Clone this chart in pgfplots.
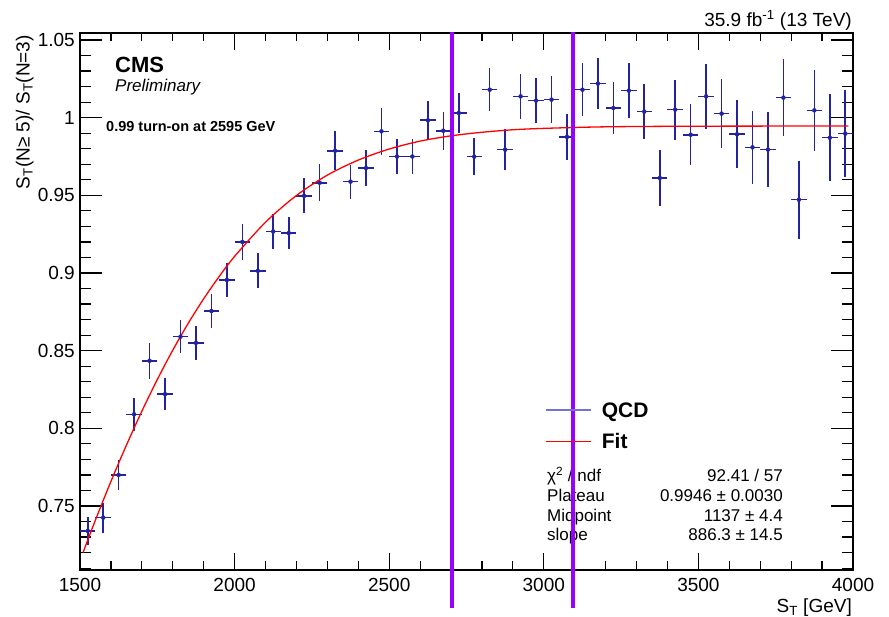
\documentclass[border=0pt]{standalone}
\usepackage{fontspec}
\setmainfont{Liberation Sans}
\usepackage{pgfplots}
\usepackage{pgfplotstable}
\pgfplotsset{compat=1.18}
\definecolor{qcdblue}{RGB}{35,35,160}
\definecolor{qcdlegend}{RGB}{115,115,215}
\definecolor{vline}{RGB}{152,0,255}
\definecolor{fitred}{RGB}{255,0,0}

\pgfplotstableread{
x y ey
1525 0.7340 0.0090
1575 0.7425 0.0097
1625 0.7700 0.0095
1675 0.8090 0.0105
1725 0.8435 0.0116
1775 0.8220 0.0103
1825 0.8590 0.0107
1875 0.8550 0.0107
1925 0.8755 0.0110
1975 0.8955 0.0110
2025 0.9200 0.0116
2075 0.9014 0.0113
2125 0.9267 0.0110
2175 0.9257 0.0105
2225 0.9497 0.0113
2275 0.9581 0.0118
2325 0.9787 0.0126
2375 0.9588 0.0110
2425 0.9676 0.0118
2475 0.9912 0.0152
2525 0.9750 0.0110
2575 0.9750 0.0113
2625 0.9983 0.0123
2675 0.9916 0.0123
2725 1.0030 0.0129
2775 0.9749 0.0120
2825 1.0180 0.0137
2875 0.9794 0.0130
2925 1.0137 0.0145
2975 1.0110 0.0147
3025 1.0116 0.0150
3075 0.9876 0.0150
3125 1.0180 0.0170
3175 1.0219 0.0166
3225 1.0062 0.0170
3275 1.0174 0.0175
3325 1.0039 0.0177
3375 0.9612 0.0178
3425 1.0052 0.0193
3475 0.9890 0.0195
3525 1.0137 0.0210
3575 1.0026 0.0220
3625 0.9893 0.0220
3675 0.9809 0.0233
3725 0.9794 0.0240
3775 1.0129 0.0250
3825 0.9472 0.0250
3875 1.0047 0.0260
3925 0.9871 0.0280
3975 0.9897 0.0280
}\qcddata

\pgfplotstableread{
x y
1510 0.7201
1550 0.7410
1600 0.7658
1650 0.7891
1700 0.8110
1750 0.8314
1800 0.8503
1850 0.8676
1900 0.8834
1950 0.8977
2000 0.9107
2100 0.9327
2200 0.9499
2300 0.9630
2400 0.9727
2500 0.9798
2600 0.9849
2700 0.9883
2800 0.9906
2900 0.9922
3000 0.9931
3200 0.9941
3500 0.9945
3985 0.9946
}\fitdata

\pgfplotstableread{
x y
2704 0.6844
2704 1.0553
}\lineA
\pgfplotstableread{
x y
3095 0.6844
3095 1.0553
}\lineB

\newcommand{\fs}[1]{\fontsize{#1}{#1}\selectfont}

\pgfplotsset{
  frameaxis/.style={
    at={(80bp,47bp)}, anchor=south west, scale only axis,
    width=773bp, height=537bp,
    xmin=1500, xmax=4000, ymin=0.7088, ymax=1.0545,
  },
  qcdleg/.style={legend image code/.code={%
    \draw[draw=qcdlegend, color=qcdlegend, line width=1.6bp] (0bp,0bp) -- (45bp,0bp);}},
  fitleg/.style={legend image code/.code={%
    \draw[draw=fitred, color=fitred, line width=1.3bp] (0bp,0bp) -- (45bp,0bp);}},
}

\begin{document}
\begin{tikzpicture}
\useasboundingbox (0bp,0bp) rectangle (889bp,617bp);

\begin{scope}[x=1bp, y=1bp]
% texts (positions in picture bp, y = 617 - pixel row)
\node[anchor=base west, inner sep=0pt, font=\fs{22bp}\bfseries] at (115,544) {CMS};
\node[anchor=base west, inner sep=0pt, font=\fs{17bp}\itshape] at (115,525.5) {Preliminary};
\node[anchor=base west, inner sep=0pt, font=\fs{14.5bp}\bfseries] at (106,485.3) {0.99 turn-on at 2595 GeV};
\node[anchor=base east, inner sep=0pt, font=\fs{19bp}] at (852,590.3) {35.9 fb\textsuperscript{-1} (13 TeV)};
\node[anchor=base east, inner sep=0pt, font=\fs{19bp}] at (852,4.3) {S\textsubscript{T} [GeV]};
\node[anchor=base east, inner sep=0pt, rotate=90, font=\fs{19bp}] at (29.5,582) {S\textsubscript{T}(N≥ 5)/ S\textsubscript{T}(N=3)};

% stats box text
\begin{scope}[every node/.style={inner sep=0pt, font=\fs{17bp}}]
\node[anchor=base west] at (547,135.5) {χ\textsuperscript{2} / ndf};
\node[anchor=base east] at (783,135.5) {92.41 / 57};
\node[anchor=base west] at (547,116) {Plateau};
\node[anchor=base east] at (783,116) {0.9946 ± 0.0030};
\node[anchor=base west] at (547,96) {Midpoint};
\node[anchor=base east] at (783,96) {1137 ± 4.4};
\node[anchor=base west] at (547,76.5) {slope};
\node[anchor=base east] at (783,76.5) {886.3 ± 14.5};
\end{scope}
\end{scope}

\begin{axis}[
  frameaxis,
  xtick={1500,2000,2500,3000,3500,4000},
  minor xtick={1600,1700,1800,1900,2100,2200,2300,2400,2600,2700,2800,2900,3100,3200,3300,3400,3600,3700,3800,3900},
  ytick={0.75,0.8,0.85,0.9,0.95,1,1.05},
  minor ytick={0.71,0.72,0.73,0.74,0.76,0.77,0.78,0.79,0.81,0.82,0.83,0.84,0.86,0.87,0.88,0.89,0.91,0.92,0.93,0.94,0.96,0.97,0.98,0.99,1.01,1.02,1.03,1.04},
  tick align=inside,
  major tick length=22bp, minor tick length=11bp,
  x tick style={/pgfplots/major tick length=17bp, /pgfplots/minor tick length=8.5bp},
  axis line style={line width=1.5bp},
  tick style={line width=1.2bp, black},
  scaled ticks=false,
  /pgf/number format/1000 sep={},
  /pgf/number format/assume math mode=true,
  xticklabel style={font=\fs{19bp}, inner sep=0pt, yshift=-8bp},
  yticklabel style={font=\fs{19bp}, inner sep=0pt, xshift=-5bp},
]
\addplot[qcdblue, only marks, mark=none, forget plot,
  error bars/.cd, x dir=both, x fixed=25, y dir=both, y explicit,
  error mark=none, error bar style={line width=1.6bp, qcdblue}]
  table[x=x, y=y, y error=ey] {\qcddata};
\addplot[fitred, line width=1.3bp, smooth, mark=none, forget plot]
  table[x=x,y=y] {\fitdata};
\end{axis}

\begin{axis}[frameaxis, hide axis, clip=false,
  cycle list={{fitred},{fitred}},
  legend style={draw=none, fill=none, at={(0.6016,0.3128)}, anchor=north west,
    inner xsep=0pt, inner ysep=0pt, row sep=16.7bp, column sep=10bp,
    nodes={inner sep=0pt, text height=15bp, text depth=0bp, font=\fs{21bp}\bfseries}},
  legend cell align=left,
]
\addplot[vline, line width=4bp, mark=none, forget plot] table[x=x,y=y] {\lineA};
\addplot[vline, line width=4bp, mark=none, forget plot] table[x=x,y=y] {\lineB};
\addlegendimage{qcdleg}
\addlegendentry{QCD}
\addlegendimage{fitleg}
\addlegendentry{Fit}
\end{axis}
\end{tikzpicture}
\end{document}
